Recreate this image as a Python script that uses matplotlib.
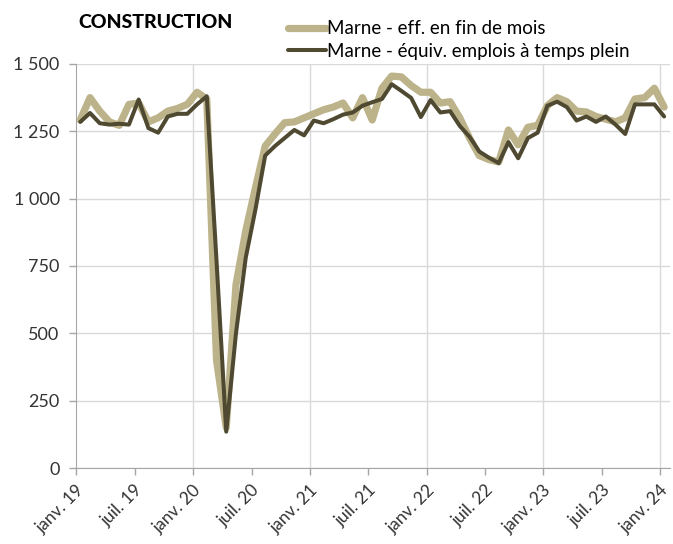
import matplotlib.pyplot as plt
import numpy as np

# Effectifs construction, Marne, janv. 2019 -> janv. 2024 (mensuel)
eff_fin_mois = [
    1292, 1375, 1325, 1285, 1272, 1350, 1355, 1285, 1300, 1325, 1335, 1350,
    1395, 1370, 400, 150, 680, 880, 1040, 1195, 1240, 1282, 1285, 1300,
    1315, 1330, 1340, 1355, 1300, 1375, 1292, 1410, 1455, 1452, 1420, 1395,
    1395, 1355, 1360, 1300, 1225, 1160, 1145, 1136, 1255, 1200, 1265, 1272,
    1345, 1375, 1360, 1325, 1322, 1305, 1295, 1285, 1300, 1370, 1375, 1410,
    1340,
]
equiv_etp = [
    1285, 1318, 1280, 1275, 1278, 1275, 1368, 1262, 1245, 1305, 1315, 1315,
    1350, 1380, 770, 135, 500, 780, 960, 1160, 1195, 1225, 1255, 1235,
    1290, 1280, 1295, 1312, 1320, 1345, 1358, 1370, 1425, 1400, 1374, 1303,
    1366, 1320, 1325, 1270, 1230, 1175, 1152, 1132, 1210, 1150, 1225, 1245,
    1345, 1360, 1340, 1290, 1305, 1285, 1305, 1275, 1240, 1350, 1350, 1350,
    1305,
]
tick_labels = ["janv. 19", "juil. 19", "janv. 20", "juil. 20", "janv. 21",
               "juil. 21", "janv. 22", "juil. 22", "janv. 23", "juil. 23",
               "janv. 24"]

plt.rcParams['font.family'] = ['Lato', 'DejaVu Sans']

fig = plt.figure(figsize=(6.73, 5.44), dpi=100)
ax = fig.add_axes([0.1135, 0.1397, 0.882, 0.7427])

x = np.arange(len(eff_fin_mois)) + 0.4
ax.plot(x, eff_fin_mois, color='#BDB38A', lw=5.2, solid_joinstyle='round',
        solid_capstyle='round', label="Marne - eff. en fin de mois", zorder=3)
ax.plot(x, equiv_etp, color='#4E4930', lw=2.9, solid_joinstyle='round',
        solid_capstyle='round', label="Marne - équiv. emplois à temps plein", zorder=4)

ax.set_ylim(0, 1500)
ax.set_xlim(0, 61)
yt = [0, 250, 500, 750, 1000, 1250, 1500]
ax.set_yticks(yt)
ax.set_yticklabels([f"{v:,}".replace(",", " ") for v in yt], fontsize=13, color='#333333')
ax.set_xticks(np.arange(0, 61, 6))
ax.set_xticklabels(tick_labels, rotation=45, ha='right', rotation_mode='anchor',
                   fontsize=12.5, color='#333333')
ax.tick_params(axis='both', length=5, color='#A6A6A6', width=1)
ax.tick_params(axis='y', pad=7)
ax.tick_params(axis='x', pad=5)

for v in yt:
    ax.axhline(v, color='#D9D9D9', lw=1, zorder=1)
for t in range(12, 61, 12):
    ax.axvline(t, color='#D9D9D9', lw=1, zorder=1)

for s in ['top', 'right']:
    ax.spines[s].set_visible(False)
for s in ['left', 'bottom']:
    ax.spines[s].set_color('#A6A6A6')

fig.text(0.116, 1 - 22 / 544, "CONSTRUCTION", fontsize=14, fontweight='black',
         ha='left', va='center', color='black')
fig.legend(loc='center left', bbox_to_anchor=(288 / 673, 1 - 40 / 544), frameon=False,
           fontsize=13.5, handlelength=2.0, handletextpad=0.1,
           labelspacing=0.3, borderaxespad=0, borderpad=0)

fig.savefig("out.png", dpi=100)
